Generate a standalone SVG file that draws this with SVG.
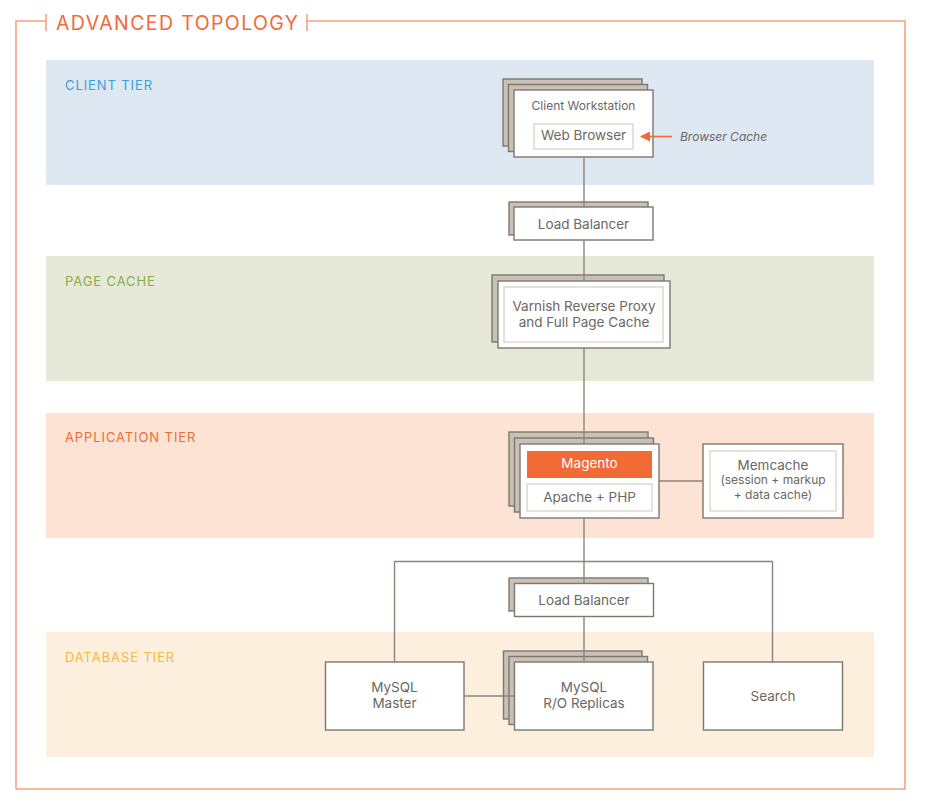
<svg xmlns="http://www.w3.org/2000/svg" width="927" height="801" viewBox="0 0 927 801">
<defs>
<style>
.frame{fill:none;stroke:#f4a482;stroke-width:1.6}
.band-label{font-family:"Inter","Liberation Sans",sans-serif;font-size:13px;letter-spacing:0.9px}
.back{fill:#c9c1b5;stroke:#7d776f;stroke-width:1.4}
.front{fill:#ffffff;stroke:#7d776f;stroke-width:1.4}
.inner{fill:#ffffff;stroke:#d8d2c8;stroke-width:1.3}
.t{font-family:"Inter","Liberation Sans",sans-serif;font-size:13.5px;fill:#6b6762;text-anchor:middle}
.ts{font-family:"Inter","Liberation Sans",sans-serif;font-size:12px;fill:#6b6762;text-anchor:middle}
.conn{fill:none;stroke:#8a847c;stroke-width:1.4}
</style>
<marker id="arr" viewBox="0 0 10 10" refX="9" refY="5" markerWidth="10" markerHeight="10" markerUnits="userSpaceOnUse" orient="auto">
<path d="M0,0 L10,5 L0,10 z" fill="#f26a35"/>
</marker>
</defs>

<!-- frame -->
<g id="frame">
<path class="frame" d="M16,789 V21 H46 M307,21 H905 V789 H16"/>
<line class="frame" x1="46" y1="14" x2="46" y2="31"/>
<line class="frame" x1="307" y1="14" x2="307" y2="31"/>
<text x="56" y="30" font-family="Inter,'Liberation Sans',sans-serif" font-size="19.5" letter-spacing="1.4" fill="#f26a35">ADVANCED TOPOLOGY</text>
</g>

<!-- bands -->
<g id="bands">
<rect x="46" y="60" width="828" height="125" fill="#dde8f2"/>
<rect x="46" y="256" width="828" height="125" fill="#e6e9d8"/>
<rect x="46" y="413" width="828" height="125" fill="#fde3d4"/>
<rect x="46" y="632" width="828" height="125" fill="#fcefde"/>
<text class="band-label" x="65" y="90" fill="#3a9fd6">CLIENT TIER</text>
<text class="band-label" x="65" y="286" fill="#8aab4a">PAGE CACHE</text>
<text class="band-label" x="65" y="442" fill="#f26a35">APPLICATION TIER</text>
<text class="band-label" x="65" y="662" fill="#f5b843">DATABASE TIER</text>
</g>

<!-- nodes -->
<g id="client-workstation">
<rect class="back" x="503" y="79" width="139" height="67"/>
<rect class="back" x="508.5" y="84.5" width="139" height="67"/>
<rect class="front" x="514" y="90" width="139" height="67"/>
<text class="ts" x="583.5" y="109.5">Client Workstation</text>
<rect class="inner" x="534" y="124" width="99" height="25"/>
<text class="t" x="583.5" y="139.5">Web Browser</text>
</g>

<g id="browser-cache">
<text x="680" y="140.5" font-family="Inter,'Liberation Sans',sans-serif" font-size="12" font-style="italic" fill="#6b6762">Browser Cache</text>
</g>

<g id="load-balancer-1">
<rect class="back" x="509" y="202" width="139" height="33"/>
<rect class="front" x="514" y="207" width="139" height="33"/>
<text class="t" x="583.5" y="229">Load Balancer</text>
</g>

<g id="varnish">
<rect class="back" x="492" y="275" width="172" height="67"/>
<rect class="front" x="498" y="281" width="172" height="67"/>
<rect class="inner" x="504" y="287" width="159" height="55"/>
<text class="t" x="584" y="310.5">Varnish Reverse Proxy</text>
<text class="t" x="584" y="326.5">and Full Page Cache</text>
</g>

<g id="magento">
<rect class="back" x="509" y="432" width="139" height="74"/>
<rect class="back" x="514.5" y="438" width="139" height="74"/>
<rect class="front" x="520" y="444" width="139" height="74"/>
<rect x="527" y="451" width="125" height="27" fill="#f26a35"/>
<text class="t" x="589.5" y="468" style="fill:#ffffff">Magento</text>
<rect class="inner" x="527" y="484" width="125" height="27"/>
<text class="t" x="589.5" y="502">Apache + PHP</text>
</g>

<g id="memcache">
<rect class="front" x="703" y="444" width="140" height="74"/>
<rect class="inner" x="710" y="451" width="126" height="60"/>
<text class="t" x="773" y="469.5">Memcache</text>
<text class="ts" x="773" y="483.5">(session + markup</text>
<text class="ts" x="773" y="498.5">+ data cache)</text>
</g>

<g id="load-balancer-2">
<rect class="back" x="509" y="578" width="139" height="33"/>
<rect class="front" x="514.5" y="583.5" width="139" height="33"/>
<text class="t" x="584" y="605">Load Balancer</text>
</g>

<g id="mysql-master">
<rect class="front" x="325.5" y="662" width="138.5" height="68"/>
<text class="t" x="394.5" y="692">MySQL</text>
<text class="t" x="394.5" y="708">Master</text>
</g>

<g id="mysql-replicas">
<rect class="back" x="503.5" y="651" width="138.5" height="68"/>
<rect class="back" x="509" y="656.5" width="138.5" height="68"/>
<rect class="front" x="514.5" y="662" width="138.5" height="68"/>
<text class="t" x="584" y="692">MySQL</text>
<text class="t" x="584" y="708">R/O Replicas</text>
</g>

<g id="search">
<rect class="front" x="703.5" y="662" width="139" height="68"/>
<text class="t" x="773" y="700.5">Search</text>
</g>

<!-- connectors -->
<g id="connectors">
<line class="conn" x1="584" y1="157" x2="584" y2="207"/>
<line class="conn" x1="584" y1="240" x2="584" y2="281"/>
<line class="conn" x1="584" y1="348" x2="584" y2="444"/>
<line class="conn" x1="659" y1="481" x2="703" y2="481"/>
<line class="conn" x1="584" y1="518" x2="584" y2="583.5"/>
<path class="conn" d="M394.5,662 V561.5 H772.5 V662"/>
<line class="conn" x1="584" y1="616.5" x2="584" y2="662"/>
<line class="conn" x1="464" y1="696" x2="514.5" y2="696"/>
<line x1="672" y1="136.5" x2="641" y2="136.5" stroke="#f26a35" stroke-width="1.6" marker-end="url(#arr)"/>
</g>
</svg>
